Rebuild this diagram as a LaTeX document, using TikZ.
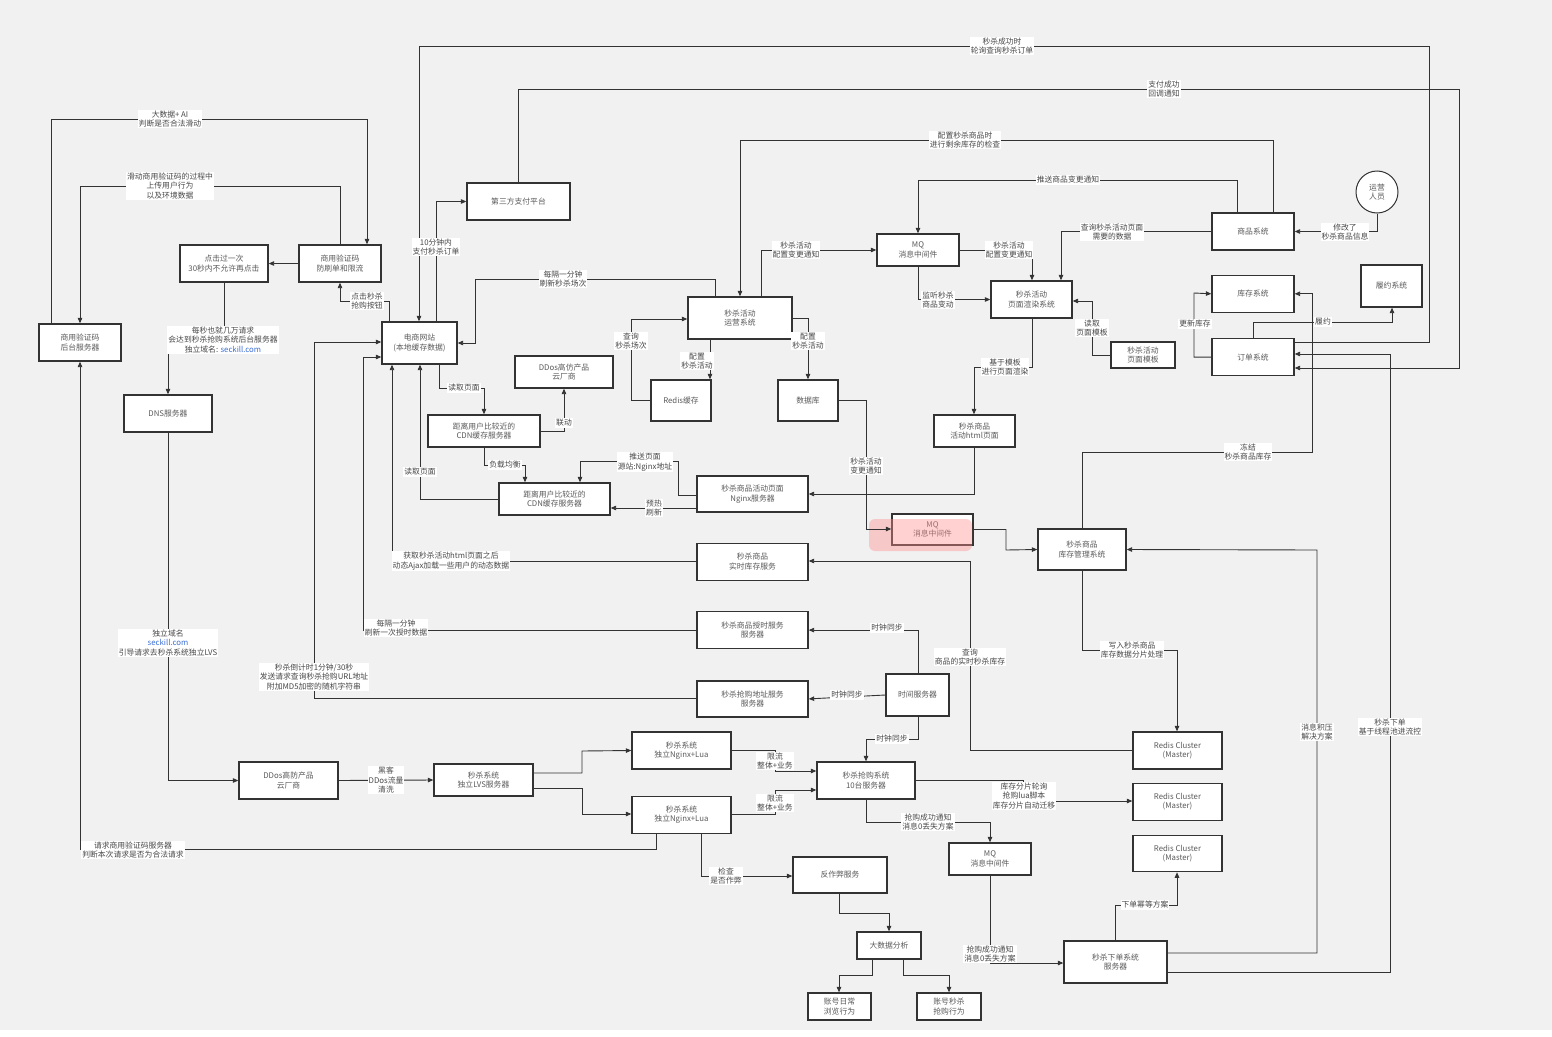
\documentclass[tikz,border=0pt]{standalone}
\usepackage{fontspec}
\setmainfont{Noto Sans CJK SC}
\usetikzlibrary{positioning,arrows.meta}
\definecolor{bgcol}{HTML}{F1F1F1}
\definecolor{linecol}{HTML}{333333}
\definecolor{boxtext}{HTML}{5A5A5A}
\definecolor{lbltext}{HTML}{484848}
\definecolor{urlblue}{HTML}{3C6FD6}

\begin{document}
\begin{tikzpicture}[x=1pt,y=-1pt,
  font=\fontsize{7.8}{9.6}\selectfont,
  box/.style={rectangle,draw=linecol,line width=1.3pt,fill=white,align=center,text=boxtext,inner sep=1pt},
  link/.style={draw=linecol,line width=0.9pt,-{Triangle[length=5.5pt,width=4.5pt]}},
  lbl/.style={fill=white,inner sep=1pt,align=center,text=lbltext}]
  \useasboundingbox (0,0) rectangle (1552,1036);
  \fill[bgcol] (0,0) rectangle (1552,1030);

  % captcha and entry side
  \node[box,minimum width=82,minimum height=37] (vcodesrv) at (80,342.5) {商用验证码\\后台服务器};
  \node[box,minimum width=88,minimum height=37] (clickonce) at (224,263.5) {点击过一次\\30秒内不允许再点击};
  \node[box,minimum width=82,minimum height=37] (vcodeguard) at (340,263.5) {商用验证码\\防刷单和限流};
  \node[box,minimum width=75,minimum height=42] (website) at (419.5,343) {电商网站\\(本地缓存数据)};
  \node[box,minimum width=103,minimum height=37] (paysys) at (518.5,201.5) {第三方支付平台};
  \node[box,minimum width=88,minimum height=37] (dns) at (168,413.5) {DNS服务器};
  \node[box,minimum width=99,minimum height=37] (ddoslvs) at (288.5,780.5) {DDos高防产品\\云厂商};
  \node[box,minimum width=99,minimum height=32] (lvs) at (483.5,780) {秒杀系统\\独立LVS服务器};
  \node[box,minimum width=99,minimum height=37] (nginxA) at (681.5,750.5) {秒杀系统\\独立Nginx+Lua};
  \node[box,minimum width=99,minimum height=37,below=26pt of nginxA] (nginxB) {秒杀系统\\独立Nginx+Lua};

  % page and cdn
  \node[box,minimum width=104,minimum height=42] (opsys) at (740,318) {秒杀活动\\运营系统};
  \node[box,minimum width=98,minimum height=32] (ddoscdn) at (564,372) {DDos高仿产品\\云厂商};
  \node[box,minimum width=60,minimum height=41] (rediscache) at (681,400.5) {Redis缓存};
  \node[box,minimum width=60,minimum height=41] (database) at (808,400.5) {数据库};
  \node[box,minimum width=112,minimum height=32] (cdnA) at (484,431) {距离用户比较近的\\CDN缓存服务器};
  \node[box,minimum width=111,minimum height=32] (cdnB) at (554.5,499) {距离用户比较近的\\CDN缓存服务器};
  \node[box,minimum width=111,minimum height=36] (nginxpage) at (752.5,494) {秒杀商品活动页面\\Nginx服务器};
  \node[box,minimum width=111,minimum height=37,below=30pt of nginxpage] (stocksvc) {秒杀商品\\实时库存服务};
  \node[box,minimum width=111,minimum height=37,below=30pt of stocksvc] (timesvc) {秒杀商品授时服务\\服务器};
  \node[box,minimum width=111,minimum height=36,below=31pt of timesvc] (urlsvc) {秒杀抢购地址服务\\服务器};
  \node[box,minimum width=81,minimum height=32] (htmlpage) at (974.5,431) {秒杀商品\\活动html页面};
  \node[box,minimum width=81,minimum height=31] (mqmid) at (932.5,529.5) {MQ\\消息中间件};
  \node[box,minimum width=88,minimum height=41] (stockmgr) at (1082,549.5) {秒杀商品\\库存管理系统};
  \node[box,minimum width=63,minimum height=42] (clocksrv) at (917.5,695) {时间服务器};

  % buying side
  \node[box,minimum width=98,minimum height=37] (buysys) at (866,780.5) {秒杀抢购系统\\10台服务器};
  \node[box,minimum width=82,minimum height=32] (mqlow) at (990,859) {MQ\\消息中间件};
  \node[box,minimum width=94,minimum height=36] (anticheat) at (840,875) {反作弊服务};
  \node[box,minimum width=64,minimum height=27] (bigdata) at (889,945.5) {大数据分析};
  \node[box,minimum width=63,minimum height=27] (browsebhv) at (839.5,1006.5) {账号日常\\浏览行为};
  \node[box,minimum width=64,minimum height=27] (buybhv) at (949,1006.5) {账号秒杀\\抢购行为};
  \node[box,minimum width=103,minimum height=42] (ordersvc) at (1115.5,962) {秒杀下单系统\\服务器};
  \node[box,minimum width=89,minimum height=37] (redisA) at (1177.5,750.5) {Redis Cluster\\(Master)};
  \node[box,minimum width=89,minimum height=37,below=13pt of redisA] (redisB) {Redis Cluster\\(Master)};
  \node[box,minimum width=89,minimum height=36,below=14pt of redisB] (redisC) {Redis Cluster\\(Master)};

  % right side systems
  \node[box,minimum width=81,minimum height=37] (render) at (1031.5,299.5) {秒杀活动\\页面渲染系统};
  \node[box,minimum width=82,minimum height=32] (mqtop) at (918,250) {MQ\\消息中间件};
  \node[box,minimum width=64,minimum height=26] (pagetpl) at (1143,355) {秒杀活动\\页面模板};
  \node[box,minimum width=82,minimum height=37] (goodssys) at (1253,231.5) {商品系统};
  \node[box,minimum width=82,minimum height=37,below=24pt of goodssys] (invsys) {库存系统};
  \node[box,minimum width=82,minimum height=37,below=25pt of invsys] (ordersys) {订单系统};
  \node[box,minimum width=61,minimum height=42] (fulfilsys) at (1391.5,286) {履约系统};
  \node[box,circle,line width=1pt,minimum size=42] (opstaff) at (1377,192) {运营\\人员};

  \fill[red!45,opacity=0.4,rounded corners=6pt] (869,519) rectangle (972,551);

  \draw[link] (vcodesrv.north -| 51,0) |- (367,119) -- (vcodeguard.north -| 367,0);
  \draw[link] (vcodeguard.north -| 340,0) |- (80,186) -- (vcodesrv.north);
  \draw[link] (vcodeguard.west) -- (clickonce.east);
  \draw[link] (clickonce.south) |- (168,340) -- (dns.north);
  \draw[link] (dns.south) |- (ddoslvs.west);
  \draw[link] (website.north -| 389,0) |- (340,301) -- (vcodeguard.south -| 340,0);
  \draw[link] (nginxB.south -| 656,0) |- (80,849) -- (vcodesrv.south);
  \draw[link] (urlsvc.west) -| (314,342) -- (website.west |- 0,342);
  \draw[link] (timesvc.west) -| (363,357) -- (website.west |- 0,357);
  \draw[link] (stocksvc.west) -| (website.south -| 392,0);
  \draw[link] (cdnB.west) -| (website.south -| 420,0);
  \draw[link] (website.south -| 439,0) |- (484,388) -- (cdnA.north);
  \draw[link] (cdnA.east) -| (ddoscdn.south);
  \draw[link] (cdnA.south) |- (525,465) -- (cdnB.north -| 525,0);
  \draw[link] (nginxpage.west |- 0,495) -| (678,461) -| (cdnB.north -| 580,0);
  \draw[link] (nginxpage.west |- 0,508) -- (cdnB.east |- 0,508);
  \draw[link] (website.north -| 436,0) |- (paysys.west);
  \draw[link] (ordersys.east |- 0,342) -| (1429,46) -| (website.north -| 419,0);
  \draw[link] (paysys.north) |- (1459,89) |- (ordersys.east |- 0,368);
  \draw[link] (goodssys.north -| 1273,0) |- (740,140) -- (opsys.north);
  \draw[link] (goodssys.north -| 1237,0) |- (918,180) -- (mqtop.north);
  \draw[link] (goodssys.west) -| (render.north -| 1061,0);
  \draw[link] (opstaff.south) |- (goodssys.east);
  \draw[link] (opsys.north -| 761,0) |- (mqtop.west);
  \draw[link] (mqtop.east) -| (render.north -| 1032,0);
  \draw[link] (mqtop.south) |- (render.west);
  \draw[link] (pagetpl.west) -| (1092,301) -- (render.east |- 0,301);
  \draw[link] (render.south -| 1032,0) |- (974,367) -- (htmlpage.north -| 974,0);
  \draw[link] (htmlpage.south -| 974,0) |- (nginxpage.east);
  \draw[link] (opsys.east) -| (database.north);
  \draw[link] (opsys.south -| 710,0) -- (rediscache.north -| 710,0);
  \draw[link] (rediscache.west) -| (631,319) -- (opsys.west |- 0,319);
  \draw[link] (opsys.north -| 715,0) |- (475,279) |- (website.east);
  \draw[link] (database.east) -| (866,529) -- (mqmid.west |- 0,529);
  \draw[link] (mqmid.east) -| (1006,550) -- (stockmgr.west);
  \draw[link] (stockmgr.north) |- (1312,452) |- (invsys.east);
  \draw[link] (ordersys.west) -| (1194,293) -- (invsys.west);
  \draw[link] (ordersys.north) |- (1392,322) -- (fulfilsys.south -| 1392,0);
  \draw[link] (ordersvc.east |- 0,972) -| (1390,354) -- (ordersys.east |- 0,354);
  \draw[link] (ordersvc.east |- 0,953) -| (1317,550) -- (stockmgr.east);
  \draw[link] (stockmgr.south) |- (1177,650) -- (redisA.north -| 1177,0);
  \draw[link] (clocksrv.north -| 918,0) |- (timesvc.east);
  \draw[link] (clocksrv.west) -- (urlsvc.east);
  \draw[link] (clocksrv.south -| 918,0) |- (866,739) -- (buysys.north);
  \draw[link] (redisA.west) -| (970,561) -- (stocksvc.east |- 0,561);
  \draw[link] (buysys.east) -| (1023,801) -- (redisB.west |- 0,801);
  \draw[link] (buysys.south) |- (990,822) -- (mqlow.north);
  \draw[link] (mqlow.south) |- (ordersvc.west |- 0,963);
  \draw[link] (ordersvc.north) |- (1177,905) -- (redisC.south -| 1177,0);
  \draw[link] (nginxA.east) -| (775,771) -- (buysys.west |- 0,771);
  \draw[link] (nginxB.east) -| (775,790) -- (buysys.west |- 0,790);
  \draw[link] (lvs.east |- 0,773) -| (582,751) -- (nginxA.west);
  \draw[link] (lvs.east |- 0,788) -| (582,814) -- (nginxB.west |- 0,814);
  \draw[link] (ddoslvs.east) -- (lvs.west);
  \draw[link] (nginxB.south -| 701,0) |- (anticheat.west |- 0,876);
  \draw[link] (anticheat.south -| 839,0) |- (889,913) -- (bigdata.north);
  \draw[link] (bigdata.south -| 872,0) |- (839,975) -- (browsebhv.north -| 839,0);
  \draw[link] (bigdata.south -| 903,0) |- (949,975) -- (buybhv.north);

  \node[lbl] (lblai) at (170,119) {大数据+ AI\\判断是否合法滑动};
  \node[lbl] (lblslide) at (170,186) {滑动商用验证码的过程中\\上传用户行为\\以及环境数据};
  \node[lbl] (lblqps) at (223,340) {每秒也就几万请求\\会达到秒杀抢购系统后台服务器\\独立域名: \textcolor{urlblue}{seckill.com}};
  \node[lbl] (lbldomain) at (168,643) {独立域名\\\textcolor{urlblue}{seckill.com}\\引导请求去秒杀系统独立LVS};
  \node[lbl] (lblclick) at (367,301) {点击秒杀\\抢购按钮};
  \node[lbl] (lblcheck) at (133,850) {请求商用验证码服务器\\判断本次请求是否为合法请求};
  \node[lbl] (lblurl) at (314,677) {秒杀倒计时1分钟/30秒\\发送请求查询秒杀抢购URL地址\\附加MD5加密的随机字符串};
  \node[lbl] (lbltick) at (396,628) {每隔一分钟\\刷新一次授时数据};
  \node[lbl] (lblajax) at (451,561) {获取秒杀活动html页面之后\\动态Ajax加载一些用户的动态数据};
  \node[lbl] (lblreadB) at (420,472) {读取页面};
  \node[lbl] (lblreadA) at (464,388) {读取页面};
  \node[lbl] (lbllink) at (564,423) {联动};
  \node[lbl] (lblbalance) at (505,465) {负载均衡};
  \node[lbl] (lblpush) at (645,462) {推送页面\\源站:Nginx地址};
  \node[lbl] (lblwarm) at (654,508) {预热\\刷新};
  \node[lbl] (lblpay) at (436,247) {10分钟内\\支付秒杀订单};
  \node[lbl] (lblpoll) at (1002,46) {秒杀成功时\\轮询查询秒杀订单};
  \node[lbl] (lblcallback) at (1164,89) {支付成功\\回调通知};
  \node[lbl] (lblstockchk) at (965,140) {配置秒杀商品时\\进行剩余库存的检查};
  \node[lbl] (lblgoodsmsg) at (1068,180) {推送商品变更通知};
  \node[lbl] (lblquery) at (1112,232) {查询秒杀活动页面\\需要的数据};
  \node[lbl] (lblmodify) at (1345,232) {修改了\\秒杀商品信息};
  \node[lbl] (lblcfgA) at (796,250) {秒杀活动\\配置变更通知};
  \node[lbl] (lblcfgB) at (1009,250) {秒杀活动\\配置变更通知};
  \node[lbl] (lbllisten) at (938,300) {监听秒杀\\商品变动};
  \node[lbl] (lbltpl) at (1092,328) {读取\\页面模板};
  \node[lbl] (lblrender) at (1005,367) {基于模板\\进行页面渲染};
  \node[lbl] (lbldb) at (808,341) {配置\\秒杀活动};
  \node[lbl] (lblredis) at (697,361) {配置\\秒杀活动};
  \node[lbl] (lblsession) at (631,341) {查询\\秒杀场次};
  \node[lbl] (lblrefresh) at (563,279) {每隔一分钟\\刷新秒杀场次};
  \node[lbl] (lblchange) at (866,466) {秒杀活动\\变更通知};
  \node[lbl] (lblfreeze) at (1248,452) {冻结\\秒杀商品库存};
  \node[lbl] (lblupdate) at (1195,324) {更新库存};
  \node[lbl] (lblfulfil) at (1323,322) {履约};
  \node[lbl] (lblorder) at (1390,727) {秒杀下单\\基于线程池进流控};
  \node[lbl] (lblbacklog) at (1317,732) {消息积压\\解决方案};
  \node[lbl] (lblshard) at (1132,650) {写入秒杀商品\\库存数据分片处理};
  \node[lbl] (lblsyncA) at (887,628) {时钟同步};
  \node[lbl] (lblsyncB) at (847,695) {时钟同步};
  \node[lbl] (lblsyncC) at (892,739) {时钟同步};
  \node[lbl] (lblrealtime) at (970,657) {查询\\商品的实时秒杀库存};
  \node[lbl] (lbllua) at (1024,796) {库存分片轮询\\抢购lua脚本\\库存分片自动迁移};
  \node[lbl] (lblsuccA) at (928,822) {抢购成功通知\\消息0丢失方案};
  \node[lbl] (lblsuccB) at (990,954) {抢购成功通知\\消息0丢失方案};
  \node[lbl] (lblidem) at (1145,905) {下单幂等方案};
  \node[lbl] (lbllimitA) at (775,761) {限流\\整体+业务};
  \node[lbl] (lbllimitB) at (775,803) {限流\\整体+业务};
  \node[lbl] (lblhacker) at (386,780) {黑客\\DDos流量\\清洗};
  \node[lbl] (lblcheat) at (726,876) {检查\\是否作弊};
\end{tikzpicture}
\end{document}
